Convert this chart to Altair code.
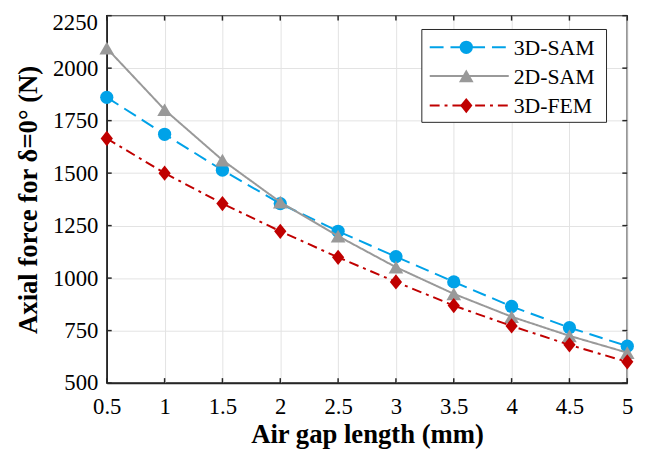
import altair as alt
import pandas as pd

# ---- data ----
gap_mm = [0.5, 1, 1.5, 2, 2.5, 3, 3.5, 4, 4.5, 5]
sam3d = [1861, 1685, 1514, 1355, 1223, 1102, 982, 865, 764, 676]
sam2d = [2095, 1802, 1562, 1362, 1200, 1052, 925, 816, 725, 645]
fem3d = [1665, 1500, 1355, 1223, 1099, 982, 869, 772, 682, 601]

series_names = ["3D-SAM", "2D-SAM", "3D-FEM"]
series_vals = [sam3d, sam2d, fem3d]
colors = ["#00A2E8", "#999999", "#C00000"]
dashes = [[14, 7], [1, 0], [10, 5, 3, 5]]
shapes = ["circle", "triangle-up", "M-0.8,0L0,-1L0.8,0L0,1Z"]
sizes = [180, 220, 240]

x_ticks = [0.5, 1, 1.5, 2, 2.5, 3, 3.5, 4, 4.5, 5]
y_ticks = [500, 750, 1000, 1250, 1500, 1750, 2000, 2250]
y_top = [2250]

TOP = 5
W, H = 527, 372
FONT = "Liberation Serif"
AX = "#262626"
LBL = 23
TTL = 27

xscale = alt.Scale(domain=[0.5, 5], nice=False, zero=False)
yscale = alt.Scale(domain=[500, 2250], nice=False, zero=False)

xaxis = alt.Axis(values=x_ticks, format="~g", title="Air gap length (mm)",
                 grid=True, gridColor="#E3E3E3", ticks=False, labelPadding=13,
                 labelFlush=False, titlePadding=3, domainColor=AX, domainWidth=1.5)
yaxis = alt.Axis(values=y_ticks, format="d", title="Axial force for δ=0° (N)",
                 labelExpr="datum.value == 2250 ? '' : datum.label",
                 grid=True, gridColor="#E3E3E3", ticks=False, labelPadding=9,
                 labelFlush=False, titlePadding=10, domainColor=AX, domainWidth=1.5)

X = lambda: alt.X("x:Q", scale=xscale, axis=xaxis)
Y = lambda: alt.Y("y:Q", scale=yscale, axis=yaxis)

layers = []
for name, vals, c, d, s, sz in zip(series_names, series_vals, colors, dashes, shapes, sizes):
    df = pd.DataFrame({"x": gap_mm, "y": vals, "series": name})
    base = alt.Chart(df)
    layers.append(base.mark_line(color=c, strokeDash=d, strokeWidth=2).encode(x=X(), y=Y()))
    layers.append(base.mark_point(shape=s, filled=True, color=c, size=sz, opacity=1).encode(x=X(), y=Y()))

# inward ticks drawn through the scales
xt = alt.Chart(pd.DataFrame({"x": x_ticks}))
yt = alt.Chart(pd.DataFrame({"y": y_ticks}))
layers.append(xt.mark_rule(color=AX, strokeWidth=1.5).encode(x=X(), y=alt.value(H), y2=alt.value(H - 5)))
layers.append(xt.mark_rule(color=AX, strokeWidth=1.5).encode(x=X(), y=alt.value(0), y2=alt.value(5)))
layers.append(yt.mark_rule(color=AX, strokeWidth=1.5).encode(y=Y(), x=alt.value(0), x2=alt.value(5)))
layers.append(yt.mark_rule(color=AX, strokeWidth=1.5).encode(y=Y(), x=alt.value(W), x2=alt.value(W - 5)))

# top tick label (kept inside the page)
layers.append(alt.Chart(pd.DataFrame({"y": y_top})).mark_text(
    align="right", baseline="middle", font=FONT, fontSize=LBL, color="black", dy=8
).encode(y=Y(), x=alt.value(-9), text=alt.Text("y:Q", format="d")))

# manual legend
one = alt.Chart(pd.DataFrame({"a": [0]}))
LT = 17 - (TOP - 2)
layers.append(one.mark_rect(fill="white", stroke=AX, strokeWidth=1).encode(
    x=alt.value(319), x2=alt.value(506), y=alt.value(LT), y2=alt.value(LT + 94)))
leg_y = [LT + 18, LT + 47, LT + 77]
for name, c, d, s, sz, ly in zip(series_names, colors, dashes, shapes, sizes, leg_y):
    layers.append(one.mark_rule(color=c, strokeDash=d, strokeWidth=2).encode(
        x=alt.value(327), x2=alt.value(407), y=alt.value(ly)))
    layers.append(one.mark_point(shape=s, filled=True, color=c, size=sz, opacity=1).encode(
        x=alt.value(364), y=alt.value(ly)))
    layers.append(one.mark_text(align="left", baseline="middle", font=FONT, fontSize=22, color="black").encode(
        x=alt.value(412), y=alt.value(ly + 1), text=alt.value(name)))

chart = alt.layer(*layers).properties(
    width=W, height=H,
    autosize=alt.AutoSizeParams(type="none"),
    padding={"left": 100, "top": TOP, "right": 22, "bottom": 65},
).configure_view(stroke=AX, strokeWidth=1.5).configure_axis(
    labelFont=FONT, labelFontSize=LBL, labelColor="black",
    titleFont=FONT, titleFontSize=TTL, titleFontWeight="bold", titleColor="black",
)

chart.save("out.html", embed_options={"renderer": "svg", "actions": False})
